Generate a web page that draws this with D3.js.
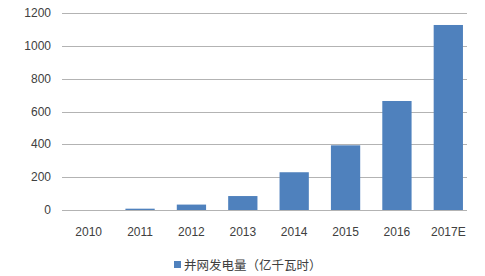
<!DOCTYPE html>
<html>
<head>
<meta charset="utf-8">
<script src="https://cdn.jsdelivr.net/npm/d3@7"></script>
<style>
  body { margin: 0; background: #fff; }
  text { fill: #404040; }
</style>
</head>
<body>
<svg id="chart" width="485" height="276"></svg>
<script>
const years = ['2010', '2011', '2012', '2013', '2014', '2015', '2016', '2017E'];
const output = [0, 8, 33, 85, 230, 394, 664, 1127];
const yTicks = [0, 200, 400, 600, 800, 1000, 1200];
const seriesName = '并网发电量（亿千瓦时）';

const svg = d3.select('#chart');

const x = d3.scaleBand()
  .domain(years)
  .range([63, 474])
  .paddingInner(0.43)
  .paddingOuter(0.215);

const y = d3.scaleLinear()
  .domain([0, 1200])
  .range([210, 13]);

// gridlines
svg.append('g')
  .selectAll('line')
  .data(yTicks)
  .join('line')
  .attr('x1', 62)
  .attr('x2', 467)
  .attr('y1', (d) => Math.round(y(d)) + 0.5)
  .attr('y2', (d) => Math.round(y(d)) + 0.5)
  .attr('stroke', '#b3b3b3')
  .attr('stroke-width', 1);

// y labels
svg.append('g')
  .selectAll('text')
  .data(yTicks)
  .join('text')
  .attr('x', 51)
  .attr('y', (d) => y(d) + 4)
  .attr('text-anchor', 'end')
  .attr('font-family', 'Liberation Sans, Arial, sans-serif')
  .attr('font-size', '12px')
  .text((d) => d);

// bars
svg.append('g')
  .selectAll('rect')
  .data(years)
  .join('rect')
  .attr('x', (d) => x(d))
  .attr('width', x.bandwidth())
  .attr('y', (d, i) => y(output[i]))
  .attr('height', (d, i) => y(0) - y(output[i]))
  .attr('fill', '#4f81bd');

// x labels
svg.append('g')
  .selectAll('text')
  .data(years)
  .join('text')
  .attr('x', (d) => x(d) + x.bandwidth() / 2)
  .attr('y', 236)
  .attr('text-anchor', 'middle')
  .attr('font-family', 'Liberation Sans, Arial, sans-serif')
  .attr('font-size', '12px')
  .text((d) => d);

// legend
const legend = svg.append('g').attr('transform', 'translate(174, 265)');
legend.append('rect')
  .attr('x', 0)
  .attr('y', -4)
  .attr('width', 7)
  .attr('height', 7)
  .attr('fill', '#4f81bd');
legend.append('text')
  .attr('x', 10)
  .attr('y', 4.5)
  .attr('font-family', 'Noto Sans CJK SC, sans-serif')
  .attr('font-size', '12.5px')
  .text(seriesName);
</script>
</body>
</html>
